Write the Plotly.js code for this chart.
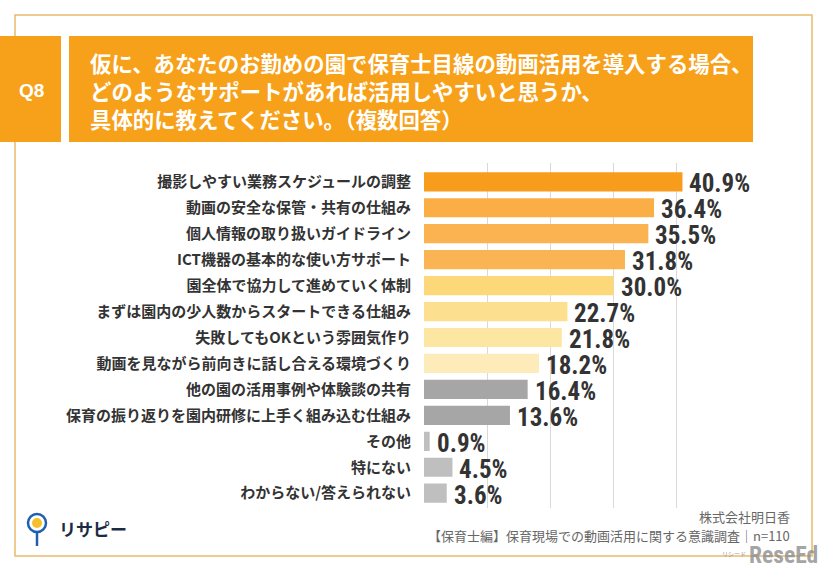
<!DOCTYPE html>
<html>
<head>
<meta charset="utf-8">
<script src="https://cdn.plot.ly/plotly-3.0.1.min.js"></script>
<style>
  html, body { margin: 0; padding: 0; background: #ffffff; }
  #chart { width: 826px; height: 571px; }
</style>
</head>
<body>
<div id="chart"></div>
<script>
// ---- data ----
const categories = [
  "撮影しやすい業務スケジュールの調整",
  "動画の安全な保管・共有の仕組み",
  "個人情報の取り扱いガイドライン",
  "ICT機器の基本的な使い方サポート",
  "園全体で協力して進めていく体制",
  "まずは園内の少人数からスタートできる仕組み",
  "失敗してもOKという雰囲気作り",
  "動画を見ながら前向きに話し合える環境づくり",
  "他の園の活用事例や体験談の共有",
  "保育の振り返りを園内研修に上手く組み込む仕組み",
  "その他",
  "特にない",
  "わからない/答えられない"
];
const values = [40.9, 36.4, 35.5, 31.8, 30.0, 22.7, 21.8, 18.2, 16.4, 13.6, 0.9, 4.5, 3.6];
const questionLabel = "Q8";
const questionLines = [
  "仮に、あなたのお勤めの園で保育士目線の動画活用を導入する場合、",
  "どのようなサポートがあれば活用しやすいと思うか、",
  "具体的に教えてください。（複数回答）"
];
const sourceLines = ["株式会社明日香", "【保育士編】保育現場での動画活用に関する意識調査｜n=110"];
const gridTicks = [10, 20, 30, 40, 50];

// ---- styles ----
const barColors = ['#f89c1b','#fbad46','#fbb250','#fbb453','#fcd87a','#fde08f','#fde5a2','#fdecba',
                   '#a6a6a6','#a6a6a6','#bfbfbf','#bfbfbf','#bfbfbf'];
const W = 826, H = 571;
const px = x => x / W;
const py = y => (H - y) / H;
const orange = '#f7a11b';
const cjk = '"Noto Sans CJK JP", "Noto Sans", sans-serif';
const numFont = '"Liberation Sans Narrow", "Roboto Condensed", "DejaVu Sans Condensed", "Liberation Sans", Arial, sans-serif';

const trace = {
  type: 'bar',
  orientation: 'h',
  x: values,
  y: categories,
  marker: { color: barColors, line: { width: 0 } },
  hoverinfo: 'skip'
};

const annotations = [];
values.forEach((v, i) => {
  annotations.push({
    x: v, y: categories[i], xref: 'x', yref: 'y',
    text: v.toFixed(1) + '%', showarrow: false,
    xanchor: 'left', yanchor: 'middle', xshift: 5, yshift: -2,
    font: { family: numFont, size: 25, color: '#333333', weight: 'bold' }
  });
});
// Q8 label
annotations.push({
  x: px(31), y: py(90), xref: 'paper', yref: 'paper', text: questionLabel, showarrow: false,
  xanchor: 'center', yanchor: 'middle',
  font: { family: '"Liberation Sans", Arial, sans-serif', size: 19, color: '#ffffff', weight: 'bold' }
});
// question title (single block)
annotations.push({
  x: px(88), y: py(90), xref: 'paper', yref: 'paper', text: questionLines.join('<br>'), showarrow: false,
  xanchor: 'left', yanchor: 'middle', align: 'left',
  font: { family: cjk, size: 21.4, color: '#ffffff', weight: 'bold' }
});
// source lines
const srcY = [516.5, 535];
sourceLines.forEach((t, i) => {
  annotations.push({
    x: px(792), y: py(srcY[i]), xref: 'paper', yref: 'paper', text: t, showarrow: false,
    xanchor: 'right', yanchor: 'middle',
    font: { family: cjk, size: 13, color: '#666666' }
  });
});
// logo text
annotations.push({
  x: px(57), y: py(528), xref: 'paper', yref: 'paper', text: 'リサピー', showarrow: false,
  xanchor: 'left', yanchor: 'middle', font: { family: cjk, size: 17, color: '#1d2a44', weight: 'bold' }
});
// watermark
annotations.push({
  x: px(747), y: py(571), xref: 'paper', yref: 'paper', text: 'ReseEd', showarrow: false,
  xanchor: 'left', yanchor: 'bottom',
  font: { family: numFont, size: 23.5, color: 'rgba(140,140,140,0.8)', weight: 'bold' }
});
annotations.push({
  x: px(734), y: py(553), xref: 'paper', yref: 'paper', text: 'リシード', showarrow: false,
  xanchor: 'center', yanchor: 'middle', font: { family: cjk, size: 6, color: '#9a9a9a' }
});

const shapes = [
  // outer border
  { type: 'rect', xref: 'paper', yref: 'paper', x0: px(15), x1: px(812), y0: py(15), y1: py(556),
    line: { color: '#e8b96a', width: 1.5 }, fillcolor: 'rgba(0,0,0,0)', layer: 'below' },
  // Q8 box
  { type: 'rect', xref: 'paper', yref: 'paper', x0: px(0), x1: px(61), y0: py(36), y1: py(142),
    line: { width: 0 }, fillcolor: orange, layer: 'below' },
  // title box
  { type: 'rect', xref: 'paper', yref: 'paper', x0: px(69), x1: px(753), y0: py(36), y1: py(142),
    line: { width: 0 }, fillcolor: orange, layer: 'below' },
  // logo pin stem
  { type: 'line', xref: 'paper', yref: 'paper', x0: px(37), x1: px(37), y0: py(531), y1: py(546),
    line: { color: '#1f5fb0', width: 2.5 } },
  // logo pin circle
  { type: 'circle', xref: 'paper', yref: 'paper', x0: px(28), x1: px(46), y0: py(514), y1: py(532),
    line: { color: '#1f5fb0', width: 2.5 }, fillcolor: '#ffffff' },
  // pie inside
  { type: 'circle', xref: 'paper', yref: 'paper', x0: px(32), x1: px(42), y0: py(518), y1: py(528),
    line: { width: 0 }, fillcolor: '#f6c02c' },
  { type: 'path', xref: 'paper', yref: 'paper',
    path: `M ${px(37)} ${py(523)} L ${px(37)} ${py(528)} A 0.006 0.0087 0 0 1 ${px(32.7)} ${py(525.5)} Z`,
    line: { width: 0 }, fillcolor: '#ef6a7a' },
  { type: 'path', xref: 'paper', yref: 'paper',
    path: `M ${px(37)} ${py(523)} L ${px(37)} ${py(518)} A 0.006 0.0087 0 0 0 ${px(32.2)} ${py(521.8)} Z`,
    line: { width: 0 }, fillcolor: '#2d7fd0' }
];

const layout = {
  width: W, height: H,
  margin: { l: 0, r: 0, t: 0, b: 0 },
  paper_bgcolor: '#ffffff', plot_bgcolor: 'rgba(0,0,0,0)',
  showlegend: false,
  bargap: 0.26,
  xaxis: {
    domain: [px(424), px(740)], range: [0, 50], tickvals: gridTicks,
    showticklabels: false, showgrid: true, gridcolor: '#d9d9d9', gridwidth: 1,
    zeroline: false, showline: false, fixedrange: true
  },
  yaxis: {
    domain: [py(507.7), py(163.3)], autorange: 'reversed', type: 'category',
    showgrid: false, zeroline: false, showline: false, ticks: '',
    ticklabelstandoff: 12,
    tickfont: { family: cjk, size: 15, color: '#333333', weight: 'bold' },
    fixedrange: true
  },
  annotations: annotations,
  shapes: shapes
};

Plotly.newPlot('chart', [trace], layout, { displayModeBar: false, staticPlot: true });
</script>
</body>
</html>
